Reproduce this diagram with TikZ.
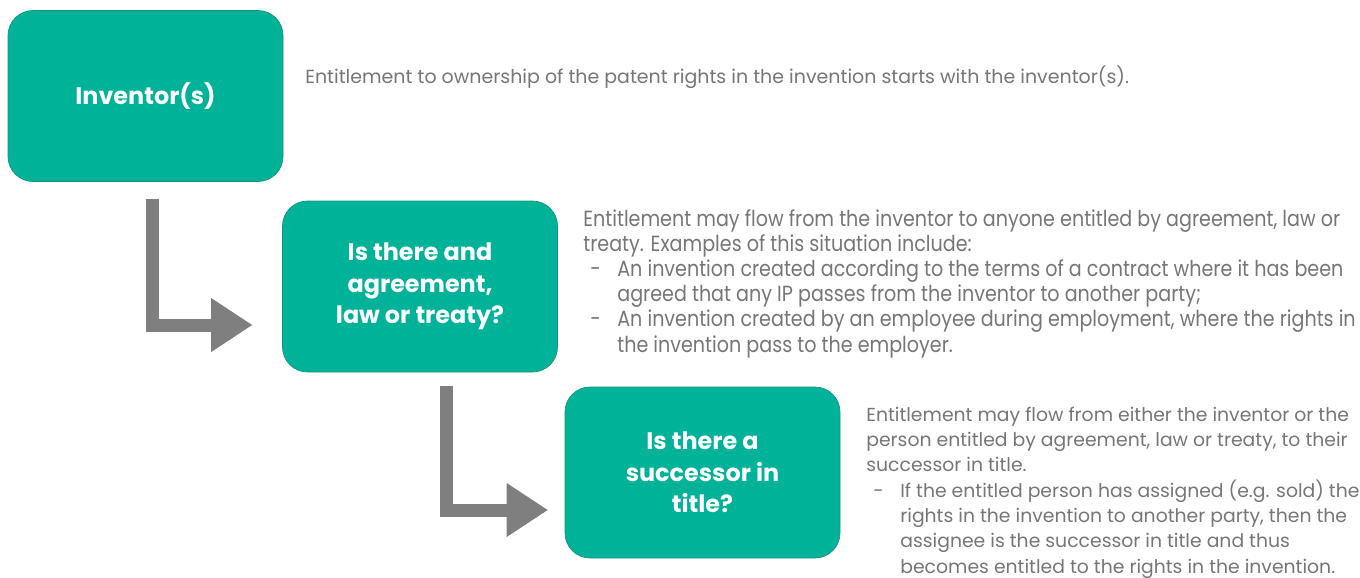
\documentclass[tikz,border=0pt]{standalone}
\usepackage{fontspec}
\setmainfont{Poppins}
\newfontfamily\narrowfont[FakeStretch=0.87]{Poppins}
\usetikzlibrary{arrows.meta,positioning,calc}
\definecolor{tealCol}{RGB}{0,178,152}
\definecolor{tealEdge}{RGB}{20,150,128}
\definecolor{arrCol}{RGB}{127,127,127}
\definecolor{txtCol}{RGB}{118,118,118}
\tikzset{
  stepbox/.style={draw=tealEdge,fill=tealCol,rounded corners=0.5cm,thin,
                  minimum width=5.5cm,minimum height=3.42cm,align=center,
                  text=white,font=\fontsize{13.6}{18}\selectfont\bfseries},
  flow/.style={-{Triangle[length=8.2mm,width=10.8mm,line width=0pt]},
               line width=2.6mm,draw=arrCol,line join=miter},
  desc/.style={align=left,inner sep=0pt,text=txtCol,
               font=\fontsize{10.7}{14.4}\selectfont},
}
% dash item: dash at a small indent, text hung further in
\newcommand{\dashitem}{\makebox[0.68cm][l]{\hspace{0.14cm}-}}
\newcommand{\hang}{\hspace*{0.68cm}}

\begin{document}
\begin{tikzpicture}
  \useasboundingbox (0,0) rectangle (27.2,-11.54);
  % the three steps
  \node[stepbox] (inv) at (2.91,-1.92) {Inventor(s)};
  \node[stepbox] (agr) at (8.40,-5.73) {Is there and\\agreement,\\law or treaty?};
  \node[stepbox] (succ) at (14.05,-9.45) {Is there a\\successor in\\title?};

  % flow between steps
  \draw[flow] ([xshift=0.13cm,yshift=-0.34cm]inv.south) |- ([xshift=-0.60cm,yshift=-0.77cm]agr.west);
  \draw[flow] ([xshift=0.53cm,yshift=-0.28cm]agr.south) |- ([xshift=-0.34cm,yshift=-0.75cm]succ.west);

  % explanations (base = last line)
  \node[desc,font=\fontsize{10.8}{14.3}\selectfont,anchor=base west] (t1) at (6.10,-1.66)
    {Entitlement to ownership of the patent rights in the invention starts with the inventor(s).};
  \node[desc,font=\fontsize{12.5}{14.3}\narrowfont,anchor=base west] (t2) at (11.66,-7.04)
    {Entitlement may flow from the inventor to anyone entitled by agreement, law or\\
     treaty. Examples of this situation include:\\
     \dashitem An invention created according to the terms of a contract where it has been\\
     \hang agreed that any IP passes from the inventor to another party;\\
     \dashitem An invention created by an employee during employment, where the rights in\\
     \hang the invention pass to the employer.};
  \node[desc,anchor=base west] (t3) at (17.32,-11.46)
    {Entitlement may flow from either the inventor or the\\
     person entitled by agreement, law or treaty, to their\\
     successor in title.\\
     \dashitem If the entitled person has assigned (e.g. sold) the\\
     \hang rights in the invention to another party, then the\\
     \hang assignee is the successor in title and thus\\
     \hang becomes entitled to the rights in the invention.};
\end{tikzpicture}
\end{document}
